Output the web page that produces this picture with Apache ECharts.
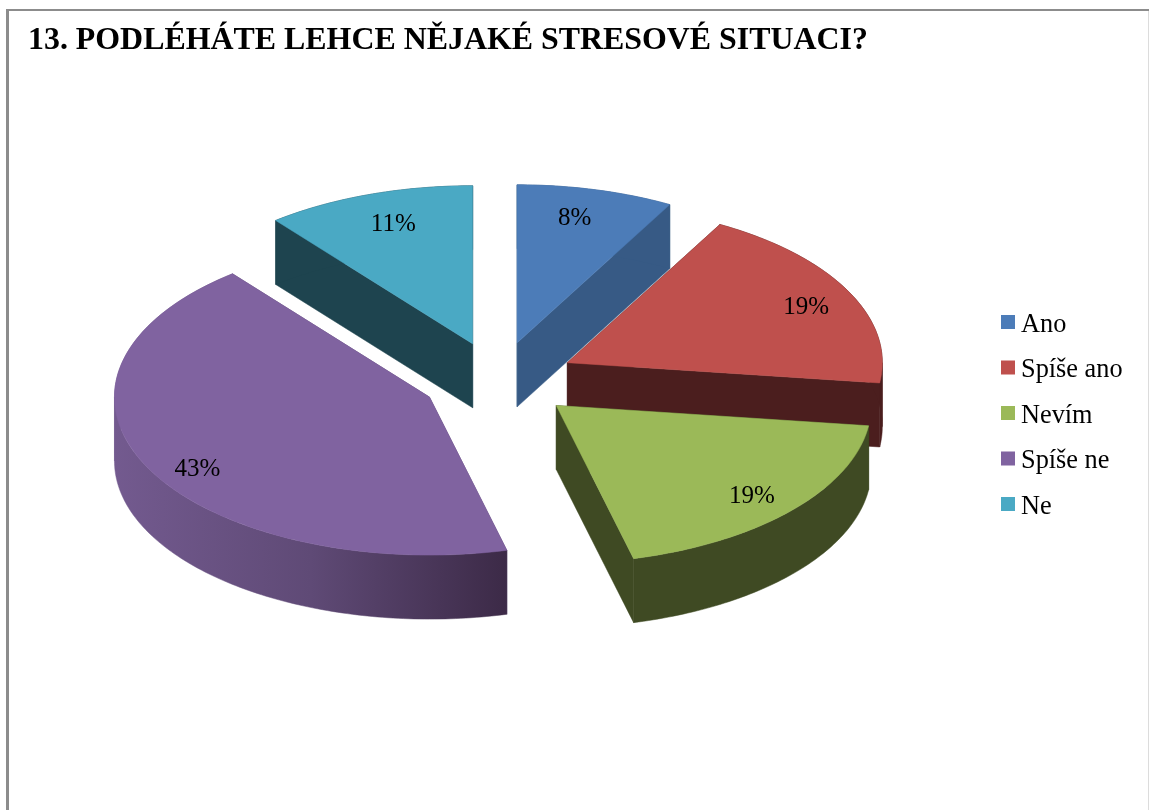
<!DOCTYPE html>
<html>
<head>
<meta charset="utf-8">
<style>html,body{margin:0;padding:0;background:#fff}#c{width:1149px;height:810px}</style>
<script src="https://cdn.jsdelivr.net/npm/echarts@6/dist/echarts.min.js"></script>
</head>
<body>
<div id="c"></div>
<script>
const titleText = '13. PODLÉHÁTE LEHCE NĚJAKÉ STRESOVÉ SITUACI?';
const categories = ['Ano', 'Spíše ano', 'Nevím', 'Spíše ne', 'Ne'];
const values = [8.05, 19, 19, 43.2, 10.75];
const topColors = ['#4c7cb8', '#bf504d', '#9bb958', '#8063a0', '#4aa9c4'];
const wallColors = ['#375a85', '#4b1e1e', '#3f4a23', '#5d4874', '#1e444f'];
const drawOrder = [4, 0, 1, 3, 2];
// label placement as fraction of each slice's mid-radius vector
const labelFx = [0.73, 0.85, 0.83, 0.823, 0.76];
const labelFy = [0.81, 0.77, 0.87, 1.03, 0.80];
const apexNudgeX = [0, 1, 1, 0, 0];

const CX = 498, CY = 380, RX = 315, RY = 158, EXPLODE = 0.243, DEPTH = 64;
const FONT = '"Liberation Serif", "Times New Roman", serif';

const total = values.reduce((a, b) => a + b, 0);
const starts = [];
values.reduce((acc, v, i) => { starts[i] = acc; return acc + v; }, 0);

function rim(theta, ax, ay, dy) {
  return [ax + RX * Math.sin(theta), ay - RY * Math.cos(theta) + dy];
}
function arc(a0, a1, ax, ay, dy) {
  const steps = Math.max(12, Math.ceil((a1 - a0) * 60));
  const pts = [];
  for (let s = 0; s <= steps; s++) pts.push(rim(a0 + (a1 - a0) * s / steps, ax, ay, dy));
  return pts;
}
function renderSlice(i) {
  return function () {
    const a0 = starts[i] / total * 2 * Math.PI;
    const a1 = (starts[i] + values[i]) / total * 2 * Math.PI;
    const mid = (a0 + a1) / 2;
    const mx = RX * Math.sin(mid), my = -RY * Math.cos(mid);
    const ax = CX + EXPLODE * mx + apexNudgeX[i], ay = CY + EXPLODE * my;
    const wallFill = i === 3 ? {
      type: 'linear', x: 114, y: 0, x2: 507, y2: 0, global: true,
      colorStops: [
        { offset: 0, color: '#735a8f' },
        { offset: 0.5, color: '#5f4a76' },
        { offset: 1, color: '#3c2a47' }
      ]
    } : wallColors[i];
    const poly = (points, fill) => ({
      type: 'polygon', shape: { points }, silent: true,
      style: { fill, stroke: fill, lineWidth: 0.5 }
    });
    const cut = (p) => poly([[ax, ay], p, [p[0], p[1] + DEPTH], [ax, ay + DEPTH]], wallColors[i]);
    const children = [cut(rim(a0, ax, ay, 0)), cut(rim(a1, ax, ay, 0))];
    // split the outer wall where the rim turns back, so each piece is one clean band
    const breaks = [a0];
    [Math.PI / 2, 3 * Math.PI / 2].forEach(b => { if (b > a0 && b < a1) breaks.push(b); });
    breaks.push(a1);
    for (let k = 0; k < breaks.length - 1; k++) {
      const upper = arc(breaks[k], breaks[k + 1], ax, ay, 0);
      const lower = arc(breaks[k], breaks[k + 1], ax, ay, DEPTH);
      children.push(poly(upper.concat(lower.reverse()), wallFill));
    }
    children.push(poly([[ax, ay]].concat(arc(a0, a1, ax, ay, 0)), topColors[i]));
    children.push({
      type: 'text', silent: true,
      x: ax + labelFx[i] * mx, y: ay + labelFy[i] * my,
      style: {
        text: Math.round(values[i]) + '%', fill: '#000', font: '25px ' + FONT,
        align: 'center', verticalAlign: 'middle'
      }
    });
    return { type: 'group', children };
  };
}

const series = drawOrder.map(i => ({
  type: 'custom',
  name: categories[i],
  coordinateSystem: 'none',
  data: [[values[i]]],
  itemStyle: { color: topColors[i] },
  renderItem: renderSlice(i),
  animation: false
}));

const chart = echarts.init(document.getElementById('c'), null, { renderer: 'canvas' });
chart.setOption({
  backgroundColor: '#fff',
  animation: false,
  title: {
    text: titleText, left: 28, top: 25, padding: 0,
    textStyle: { fontFamily: FONT, fontWeight: 'bold', fontSize: 31.9, color: '#000' }
  },
  legend: {
    data: categories, orient: 'vertical', left: 1001, top: 312,
    padding: 0, itemWidth: 14, itemHeight: 20, itemGap: 19.5,
    icon: 'path://M0 0H14V14H0Z M0 20L0 20Z', selectedMode: false,
    textStyle: { fontFamily: FONT, fontSize: 26.3, color: '#000', lineHeight: 26, padding: [0, 0, 0, 1] }
  },
  graphic: [
    { type: 'rect', silent: true, shape: { x: 6, y: 9, width: 3, height: 801 }, style: { fill: '#8c8c8c' } },
    { type: 'rect', silent: true, shape: { x: 6, y: 9, width: 1143, height: 2 }, style: { fill: '#8c8c8c' } },
    { type: 'rect', silent: true, shape: { x: 1148, y: 11, width: 1, height: 799 }, style: { fill: '#dcdcdc' } }
  ],
  series
});
</script>
</body>
</html>
